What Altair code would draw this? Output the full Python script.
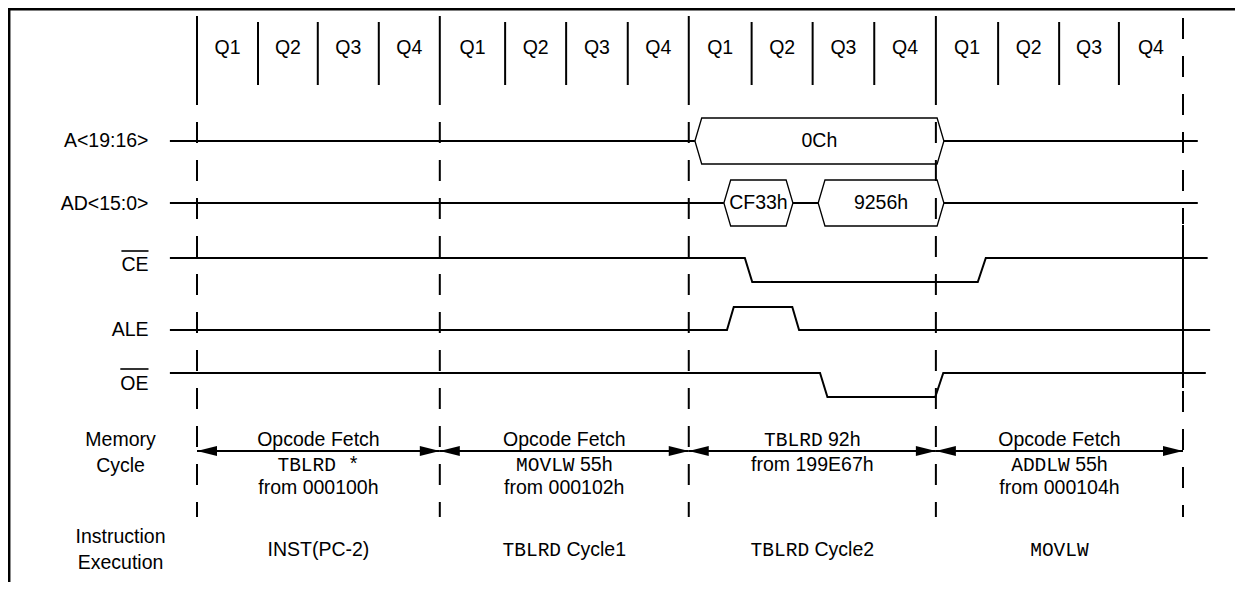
import altair as alt
import pandas as pd

# ---------------- values ----------------
# time axis in Q-clock units (t = 0 at the first cycle boundary)
QUARTER_LABELS = ["Q1", "Q2", "Q3", "Q4"]
CYCLE_EDGES = [0.0, 3.94, 7.98, 11.99, 16.0]
Q_EDGES = [0.99, 1.96, 2.95, 5.0, 5.99, 6.99, 9.0, 9.99, 10.99, 13.0, 13.99, 14.96]

SIGNAL_LABELS = ["A<19:16>", "AD<15:0>", "CE", "ALE", "OE"]
OVERLINED = ["CE", "OE"]

CE_T = [-0.44, 8.89, 9.01, 12.67, 12.80, 16.40]
CE_LEVEL = [1, 1, 0, 0, 1, 1]
ALE_T = [-0.44, 8.60, 8.71, 9.66, 9.77, 16.44]
ALE_LEVEL = [0, 0, 1, 1, 0, 0]
OE_T = [-0.44, 10.11, 10.23, 11.98, 12.11, 16.37]
OE_LEVEL = [1, 1, 0, 0, 1, 1]

A_BUS_TEXT = ["0Ch"]
A_BUS_START = [8.08]
A_BUS_END = [12.12]
AD_BUS_TEXT = ["CF33h", "9256h"]
AD_BUS_START = [8.55, 10.08]
AD_BUS_END = [9.67, 12.12]
BUS_SPAN = [-0.44, 16.24]
BUS_SLOPE = 0.11

MEM_TITLE = ["Memory", "Cycle"]
MEM_LINE1 = [[("Opcode Fetch", "s")], [("Opcode Fetch", "s")],
             [("TBLRD", "m"), ("92h", "s")], [("Opcode Fetch", "s")]]
MEM_LINE2 = [[("TBLRD *", "m")], [("MOVLW", "m"), ("55h", "s")],
             [("from 199E67h", "s")], [("ADDLW", "m"), ("55h", "s")]]
MEM_LINE3 = [[("from 000100h", "s")], [("from 000102h", "s")], [],
             [("from 000104h", "s")]]
EXEC_TITLE = ["Instruction", "Execution"]
EXEC_LINE = [[("INST(PC-2)", "s")], [("TBLRD", "m"), ("Cycle1", "s")],
             [("TBLRD", "m"), ("Cycle2", "s")], [("MOVLW", "m")]]

# ---------------- layout (page pixels) ----------------
W, H = 1227, 574
T0_PX = 197.0
PX_PER_Q = 61.625
T_MIN = (8 - T0_PX) / PX_PER_Q
T_MAX = (8 + W - T0_PX) / PX_PER_Q
FS = 19.5
SANS = "Liberation Sans"
MONO = "Liberation Mono"

HEADER_EDGE_Y = (16, 105)
HEADER_Q_Y = (22, 85)
Q_LABEL_Y = 48
DASH_Y = (122, 517)
BUS_ROWS = {"A<19:16>": (141, 23), "AD<15:0>": (203, 23)}
LEVEL_ROWS = {"CE": (282, 258), "ALE": (330, 307), "OE": (397, 373)}
LABEL_Y = {"A<19:16>": 141, "AD<15:0>": 204, "CE": 265, "ALE": 330, "OE": 384}
OVERLINE_Y = {"CE": 251, "OE": 369}
LABEL_RIGHT_PX = 148.5
ROW_TITLE_PX = 120.5
ARROW_Y = 451
MEM_Y = (440, 465, 488)
MEM_TITLE_Y = (440, 466)
EXEC_TITLE_Y = (537, 563)
EXEC_Y = 550

SANS_W = {" ": .278, "h": .556, "C": .722, "y": .5, "c": .5, "l": .222, "e": .556,
          "f": .278, "r": .333, "o": .556, "m": .833, "E": .667, "O": .778,
          "p": .556, "d": .556, "F": .611, "t": .278, "I": .278, "N": .722,
          "S": .667, "T": .611, "P": .667, "(": .333, ")": .333, "-": .333,
          "A": .667, "L": .556, "D": .722, "<": .584, ">": .584, ":": .278}


def px_to_t(px):
    return (px - T0_PX) / PX_PER_Q


def run_w(text, font):
    if font == "m":
        return 0.6 * FS * len(text)
    return sum(SANS_W.get(c, 0.556) for c in text) * FS


def layout_runs(runs, center_t, y, out):
    if not runs:
        return
    gap = 0.278 * FS
    total = sum(run_w(t, f) for t, f in runs) + gap * (len(runs) - 1)
    start = center_t * PX_PER_Q - total / 2
    for text, font in runs:
        w = run_w(text, font)
        out.append({"t": (start + w / 2) / PX_PER_Q, "y": y, "text": text, "font": font})
        start += w + gap


# ---------------- tables ----------------
solid, dashed, lines, texts = [], [], [], []

for e in CYCLE_EDGES[:-1]:
    solid.append({"t": e, "t2": e, "y": HEADER_EDGE_Y[0], "y2": HEADER_EDGE_Y[1], "w": 2})
    dashed.append({"t": e, "t2": e, "y": DASH_Y[0], "y2": DASH_Y[1], "w": 2})
last = CYCLE_EDGES[-1]
dashed.append({"t": last, "t2": last, "y": 18, "y2": 224, "w": 2})
solid.append({"t": last, "t2": last, "y": 225, "y2": 388, "w": 2})
dashed.append({"t": last, "t2": last, "y": 391, "y2": 517, "w": 2})
for q in Q_EDGES:
    solid.append({"t": q, "t2": q, "y": HEADER_Q_Y[0], "y2": HEADER_Q_Y[1], "w": 2})

# memory-cycle arrows
for a, b in zip(CYCLE_EDGES[:-1], CYCLE_EDGES[1:]):
    solid.append({"t": a, "t2": b, "y": ARROW_Y, "y2": ARROW_Y, "w": 2})

# overlines for active-low signals
for name in OVERLINED:
    right = px_to_t(LABEL_RIGHT_PX)
    left = right - run_w(name, "s") / PX_PER_Q
    solid.append({"t": left, "t2": right, "y": OVERLINE_Y[name], "y2": OVERLINE_Y[name], "w": 1.6})

# digital waveforms
for name, ts, lv in [("CE", CE_T, CE_LEVEL), ("ALE", ALE_T, ALE_LEVEL), ("OE", OE_T, OE_LEVEL)]:
    lo, hi = LEVEL_ROWS[name]
    for i, (t, l) in enumerate(zip(ts, lv)):
        lines.append({"seg": name, "o": i, "t": t, "y": hi if l else lo, "w": 2})

# bus waveforms
hex_texts = []
for name, vals, starts, ends in [("A<19:16>", A_BUS_TEXT, A_BUS_START, A_BUS_END),
                                 ("AD<15:0>", AD_BUS_TEXT, AD_BUS_START, AD_BUS_END)]:
    mid, half = BUS_ROWS[name]
    cur = BUS_SPAN[0]
    k = 0
    for v, s, e in zip(vals, starts, ends):
        seg = f"{name}-idle{k}"
        lines.append({"seg": seg, "o": 0, "t": cur, "y": mid, "w": 2})
        lines.append({"seg": seg, "o": 1, "t": s, "y": mid, "w": 2})
        for side, yy in [("top", mid - half), ("bot", mid + half)]:
            sg = f"{name}-{v}-{side}"
            pts = [(s, mid), (s + BUS_SLOPE, yy), (e - BUS_SLOPE, yy), (e, mid)]
            for i, (pt, py) in enumerate(pts):
                lines.append({"seg": sg, "o": i, "t": pt, "y": py, "w": 1.3})
        hex_texts.append({"t": (s + e) / 2, "y": mid, "text": v, "font": "s"})
        cur = e
        k += 1
    seg = f"{name}-idle{k}"
    lines.append({"seg": seg, "o": 0, "t": cur, "y": mid, "w": 2})
    lines.append({"seg": seg, "o": 1, "t": BUS_SPAN[1], "y": mid, "w": 2})

# header quarter labels
all_edges = sorted(CYCLE_EDGES + Q_EDGES)
for i, (a, b) in enumerate(zip(all_edges[:-1], all_edges[1:])):
    texts.append({"t": (a + b) / 2, "y": Q_LABEL_Y, "text": QUARTER_LABELS[i % 4], "font": "s"})

# memory cycle / execution rows
centers = [(a + b) / 2 for a, b in zip(CYCLE_EDGES[:-1], CYCLE_EDGES[1:])]
for c, l1, l2, l3, ex in zip(centers, MEM_LINE1, MEM_LINE2, MEM_LINE3, EXEC_LINE):
    layout_runs(l1, c, MEM_Y[0], texts)
    layout_runs(l2, c, MEM_Y[1], texts)
    layout_runs(l3, c, MEM_Y[2], texts)
    layout_runs(ex, c, EXEC_Y, texts)
for txt, yy in zip(MEM_TITLE, MEM_TITLE_Y):
    texts.append({"t": px_to_t(ROW_TITLE_PX), "y": yy, "text": txt, "font": "s"})
for txt, yy in zip(EXEC_TITLE, EXEC_TITLE_Y):
    texts.append({"t": px_to_t(ROW_TITLE_PX), "y": yy, "text": txt, "font": "s"})
texts += hex_texts

labels = pd.DataFrame({"t": [px_to_t(LABEL_RIGHT_PX)] * len(SIGNAL_LABELS),
                       "y": [LABEL_Y[s] for s in SIGNAL_LABELS],
                       "text": SIGNAL_LABELS})
heads_l = pd.DataFrame({"t": CYCLE_EDGES[:-1], "y": [ARROW_Y] * 4})
heads_r = pd.DataFrame({"t": CYCLE_EDGES[1:], "y": [ARROW_Y] * 4})

solid_df = pd.DataFrame(solid)
dashed_df = pd.DataFrame(dashed)
lines_df = pd.DataFrame(lines)
texts_df = pd.DataFrame(texts)

# ---------------- chart ----------------
xs = alt.Scale(domain=[T_MIN, T_MAX], nice=False, zero=False)
ys = alt.Scale(domain=[8, 8 + H], reverse=True, nice=False, zero=False)


def X(f="t"):
    return alt.X(f, type="quantitative", scale=xs, axis=None)


def Y(f="y"):
    return alt.Y(f, type="quantitative", scale=ys, axis=None)


frame = alt.Chart(pd.DataFrame({"k": [0]})).mark_rule(color="black", strokeWidth=2.5)
frame_left = frame.encode(x=alt.value(1.2), y=alt.value(0), y2=alt.value(H))
frame_top = frame.encode(y=alt.value(1.2), x=alt.value(0), x2=alt.value(W))

solid_layer = alt.Chart(solid_df).mark_rule(color="black").encode(
    x=X(), x2="t2:Q", y=Y(), y2="y2:Q",
    strokeWidth=alt.StrokeWidth("w:Q", scale=None))
dashed_layer = alt.Chart(dashed_df).mark_rule(color="black", strokeDash=[21, 17]).encode(
    x=X(), x2="t2:Q", y=Y(), y2="y2:Q",
    strokeWidth=alt.StrokeWidth("w:Q", scale=None))
wave_layer = alt.Chart(lines_df).mark_line(color="black", strokeJoin="miter").encode(
    x=X(), y=Y(), detail="seg:N", order="o:Q",
    strokeWidth=alt.StrokeWidth("w:Q", scale=None))

LEFT_HEAD = "M0,0L2,-0.5L2,0.5Z"
RIGHT_HEAD = "M0,0L-2,-0.5L-2,0.5Z"
head_l = alt.Chart(heads_l).mark_point(shape=LEFT_HEAD, size=400, filled=True,
                                       color="black", opacity=1).encode(x=X(), y=Y())
head_r = alt.Chart(heads_r).mark_point(shape=RIGHT_HEAD, size=400, filled=True,
                                       color="black", opacity=1).encode(x=X(), y=Y())

sans_text = alt.Chart(texts_df).transform_filter(alt.datum.font == "s").mark_text(
    font=SANS, fontSize=FS, align="center", baseline="middle", color="black"
).encode(x=X(), y=Y(), text="text:N")
mono_text = alt.Chart(texts_df).transform_filter(alt.datum.font == "m").mark_text(
    font=MONO, fontSize=FS, align="center", baseline="middle", color="black"
).encode(x=X(), y=Y(), text="text:N")
label_text = alt.Chart(labels).mark_text(
    font=SANS, fontSize=FS, align="right", baseline="middle", color="black"
).encode(x=X(), y=Y(), text="text:N")

chart = alt.layer(
    frame_left, frame_top, dashed_layer, solid_layer, wave_layer,
    head_l, head_r, sans_text, mono_text, label_text
).properties(
    width=W, height=H, padding=0,
    autosize=alt.AutoSizeParams(type="none"),
    background="white",
).configure_view(stroke=None)

chart.save("out.html", embed_options={"renderer": "svg", "actions": False})
